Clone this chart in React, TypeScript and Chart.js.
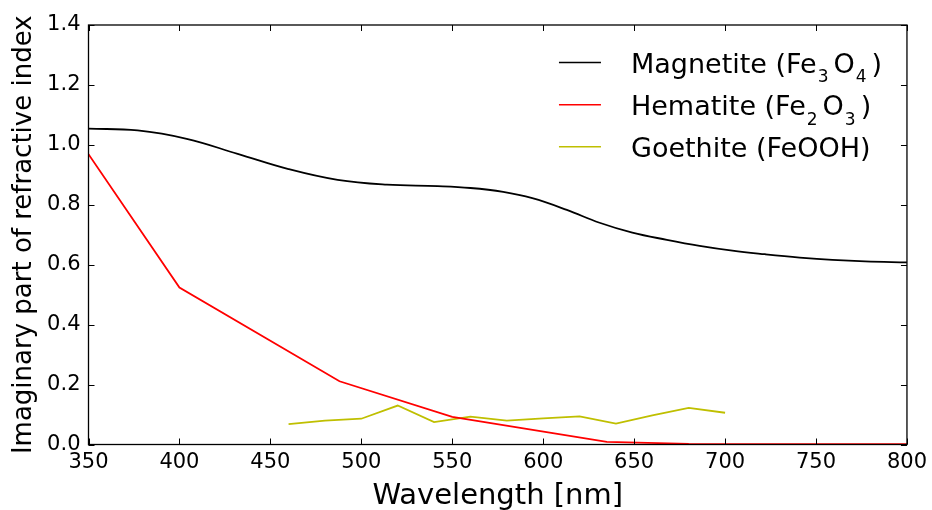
import React, { useEffect, useRef } from 'react';
import { Chart, registerables } from 'chart.js';

Chart.register(...registerables);

const FONT = '"DejaVu Sans", sans-serif';

const magnetiteX = [350, 377, 404, 432, 460, 487, 514, 542, 560, 578, 594, 613, 631, 649, 668, 686, 704, 722, 741, 759, 777, 800];
const magnetiteY = [1.054, 1.048, 1.02, 0.97, 0.919, 0.883, 0.867, 0.862, 0.856, 0.843, 0.822, 0.783, 0.74, 0.707, 0.683, 0.663, 0.647, 0.635, 0.624, 0.616, 0.611, 0.608];

const hematiteX = [350, 400, 488, 550, 635, 680, 800];
const hematiteY = [0.969, 0.524, 0.211, 0.092, 0.009, 0.002, 0.001];

const goethiteX = [460, 480, 500, 520, 540, 560, 580, 600, 620, 640, 660, 680, 700];
const goethiteY = [0.068, 0.08, 0.086, 0.13, 0.0745, 0.093, 0.08, 0.087, 0.094, 0.07, 0.097, 0.122, 0.106];

const seriesLabels = ['Magnetite (Fe₃O₄)', 'Hematite (Fe₂O₃)', 'Goethite (FeOOH)'];
const seriesColors = ['#000000', '#ff0000', '#bfbf00'];

const xMin = 350;
const xMax = 800;
const xStep = 50;
const yMin = 0;
const yMax = 1.4;
const yStep = 0.2;

const xTitle = 'Wavelength [nm]';
const yTitle = 'Imaginary part of refractive index';

const SUB: Record<string, string> = {
  '₀': '0', '₁': '1', '₂': '2', '₃': '3', '₄': '4', '₅': '5', '₆': '6', '₇': '7', '₈': '8', '₉': '9',
};

function toPoints(xs: number[], ys: number[]) {
  return xs.map((x, i) => ({ x, y: ys[i] }));
}

function drawRich(ctx: CanvasRenderingContext2D, text: string, x: number, y: number, size: number, subSize: number) {
  const runs: { t: string; sub: boolean }[] = [];
  for (const ch of text) {
    const sub = ch in SUB;
    const c = sub ? SUB[ch] : ch;
    const last = runs[runs.length - 1];
    if (last && last.sub === sub) last.t += c;
    else runs.push({ t: c, sub });
  }
  let cx = x;
  for (const r of runs) {
    if (r.sub) {
      ctx.font = `${subSize}px ${FONT}`;
      cx += 1;
      ctx.fillText(r.t, cx, y + 9.5);
      cx += ctx.measureText(r.t).width + 5;
    } else {
      ctx.font = `${size}px ${FONT}`;
      ctx.fillText(r.t, cx, y);
      cx += ctx.measureText(r.t).width;
    }
  }
}

const framePlugin = {
  id: 'frameTicks',
  afterDatasetsDraw(chart: any) {
    const { ctx, chartArea, scales } = chart;
    const { left, right, top, bottom } = chartArea;
    ctx.save();
    ctx.strokeStyle = '#000';
    ctx.lineWidth = 1.3;
    ctx.strokeRect(left, top, right - left, bottom - top);
    const tl = 6;
    ctx.lineWidth = 1;
    ctx.beginPath();
    scales.x.ticks.forEach((t: any) => {
      const px = Math.round(scales.x.getPixelForValue(t.value)) + 0.5;
      ctx.moveTo(px, bottom);
      ctx.lineTo(px, bottom - tl);
      ctx.moveTo(px, top);
      ctx.lineTo(px, top + tl);
    });
    scales.y.ticks.forEach((t: any) => {
      const py = Math.round(scales.y.getPixelForValue(t.value)) + 0.5;
      ctx.moveTo(left, py);
      ctx.lineTo(left + tl, py);
      ctx.moveTo(right, py);
      ctx.lineTo(right - tl, py);
    });
    ctx.stroke();
    ctx.restore();
  },
  afterDraw(chart: any) {
    const { ctx, chartArea } = chart;
    ctx.save();
    const rowY = [37.4, 79.7, 121.7];
    chart.data.datasets.forEach((ds: any, i: number) => {
      const y = chartArea.top + rowY[i];
      ctx.strokeStyle = ds.borderColor;
      ctx.lineWidth = 1.5;
      ctx.beginPath();
      ctx.moveTo(chartArea.right - 348, y);
      ctx.lineTo(chartArea.right - 306, y);
      ctx.stroke();
      ctx.fillStyle = '#000';
      ctx.textBaseline = 'alphabetic';
      ctx.textAlign = 'left';
      drawRich(ctx, ds.label, chartArea.right - 276, y + 10.5, 27, 17);
    });
    ctx.restore();
  },
};

export default function App() {
  const ref = useRef<HTMLCanvasElement>(null);
  useEffect(() => {
    document.body.style.margin = '0';
    const canvas = ref.current!;
    const datasets = [
      { label: seriesLabels[0], data: toPoints(magnetiteX, magnetiteY), borderColor: seriesColors[0], tension: 0.4 },
      { label: seriesLabels[1], data: toPoints(hematiteX, hematiteY), borderColor: seriesColors[1], tension: 0 },
      { label: seriesLabels[2], data: toPoints(goethiteX, goethiteY), borderColor: seriesColors[2], tension: 0 },
    ].map((d) => ({ ...d, backgroundColor: d.borderColor, borderWidth: 1.8, pointRadius: 0, fill: false }));

    const chart = new Chart(canvas, {
      type: 'line',
      data: { datasets },
      plugins: [framePlugin],
      options: {
        animation: false,
        responsive: false,
        devicePixelRatio: 1,
        layout: { padding: { top: 25, right: 24, left: 0, bottom: 0 } },
        plugins: { legend: { display: false }, tooltip: { enabled: false } },
        scales: {
          x: {
            type: 'linear',
            min: xMin,
            max: xMax,
            afterFit: (s: any) => { s.height = 65.5; },
            grid: { display: false, drawTicks: false },
            border: { display: false },
            ticks: {
              stepSize: xStep,
              autoSkip: false,
              maxRotation: 0,
              padding: 5,
              color: '#000',
              font: { family: FONT, size: 21 },
              callback: (v: any) => String(Math.round(Number(v))),
            },
            title: {
              display: true,
              text: xTitle,
              color: '#000',
              font: { family: FONT, size: 29, lineHeight: 1 },
              padding: { top: 0, bottom: -1 },
            },
          },
          y: {
            type: 'linear',
            min: yMin,
            max: yMax,
            afterFit: (s: any) => { s.width = 88.5; },
            grid: { display: false, drawTicks: false },
            border: { display: false },
            ticks: {
              stepSize: yStep,
              padding: 8,
              color: '#000',
              font: { family: FONT, size: 21 },
              callback: (v: any) => Number(v).toFixed(1),
            },
            title: {
              display: true,
              text: yTitle,
              color: '#000',
              font: { family: FONT, size: 26, lineHeight: 1 },
              padding: { top: 11.6, bottom: 0 },
            },
          },
        },
      },
    });
    return () => chart.destroy();
  }, []);

  return (
    <div style={{ width: 932, height: 510, background: '#fff' }}>
      <canvas ref={ref} width={932} height={510} style={{ display: 'block' }} />
    </div>
  );
}
